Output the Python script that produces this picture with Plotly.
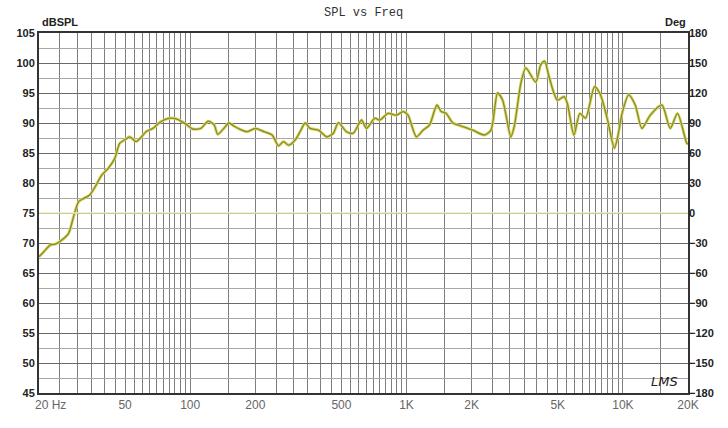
import plotly.graph_objects as go

# ---------------- data ----------------
freq_hz = [20, 21, 22.6, 23.8, 25.5, 27.4, 28.9, 30.5, 32.1, 34.3, 36.4, 39.0, 41.7, 44.8,
           47.2, 49.9, 52.6, 56.2, 59.6, 62.7, 67.2, 73, 80, 86, 94.8, 102.8, 112, 121,
           129, 134, 143, 151, 159, 171, 183, 200, 219, 239, 256, 270, 285, 306, 322,
           340, 358, 392, 428, 459, 484, 528, 567, 619, 653, 713, 752, 822, 898, 964,
           1016, 1110, 1192, 1278, 1382, 1446, 1525, 1637, 1788, 2023, 2288, 2454, 2636,
           2780, 3036, 3146, 3376, 3560, 3956, 4172, 4350, 4558, 4980, 5344, 5534, 5940,
           6328, 6724, 7396, 7878, 8456, 9138, 9468, 9916, 10634, 11408, 12248, 13384,
           15144, 16548, 17880, 19760, 20000]
spl_db = [67.7, 68.5, 69.7, 69.8, 70.5, 71.6, 74.4, 76.9, 77.4, 78.0, 79.4, 81.3, 82.4, 84.1,
          86.6, 87.2, 87.7, 86.9, 87.7, 88.6, 89.1, 90.2, 90.8, 90.7, 89.9, 89.0, 89.1, 90.3,
          89.7, 88.1, 89.1, 90.0, 89.5, 88.9, 88.55, 89.1, 88.55, 88.0, 86.2, 86.9, 86.3, 87.2, 88.55,
          90.0, 89.1, 88.8, 87.7, 88.3, 90.05, 88.55, 88.3, 90.5, 89.1, 90.8, 90.5, 91.6, 91.3, 91.9,
          91.3, 87.7, 88.8, 89.7, 93.0, 91.9, 91.6, 90.0, 89.5, 88.8, 88.0, 88.8, 95.0,
          93.8, 87.7, 89.4, 96.6, 99.2, 96.8, 99.7, 100.3, 97.7, 93.8, 94.4, 93.3, 88.0,
          91.6, 90.8, 96.05, 94.7, 90.8, 85.8, 87.7, 91.6, 94.7, 93.0, 89.1, 91.3,
          93.0, 89.1, 91.6, 86.6, 86.5]

phase_freq = [20, 20000]
phase_deg = [0, 0]

x_tick_vals = [20, 50, 100, 200, 500, 1000, 2000, 5000, 10000, 20000]
x_tick_text = ["\u00a0" * 7 + "20 Hz", "50", "100", "200", "500", "1K", "2K", "5K", "10K", "20K"]
x_grid_mult = [1.0, 1.5, 2.0, 2.5, 3.0, 3.5, 4.0, 4.5, 5.0, 5.5, 6.0, 6.5, 7.0, 7.5, 8.0, 8.5, 9.0, 9.5]
x_decades = [10, 100, 1000, 10000]

y_left_ticks = list(range(45, 106, 5))
y_right_ticks = list(range(-180, 181, 30))

# ---------------- figure ----------------
grid_vals = [m * d for d in x_decades for m in x_grid_mult if 20 <= m * d <= 20000]

fig = go.Figure()
fig.add_trace(go.Scatter(x=phase_freq, y=phase_deg, yaxis="y2", mode="lines",
                         line=dict(color="#ececb4", width=1.3), hoverinfo="skip",
                         showlegend=False))
fig.add_trace(go.Scatter(x=freq_hz, y=spl_db, mode="lines",
                         line=dict(color="#d8d862", width=3.0, shape="spline", smoothing=0.7),
                         hoverinfo="skip", showlegend=False))
fig.add_trace(go.Scatter(x=freq_hz, y=spl_db, mode="lines",
                         line=dict(color="#8a8a2e", width=1.3, shape="spline", smoothing=0.7),
                         showlegend=False))

fig.update_layout(
    width=728, height=428,
    margin=dict(l=36, r=40, t=33, b=35),
    paper_bgcolor="white", plot_bgcolor="white",
    font=dict(family="Liberation Sans, Arial, sans-serif", size=11, color="#222"),
    xaxis=dict(
        type="log", range=[1.30103, 4.30103],
        tickmode="array", tickvals=x_tick_vals, ticktext=x_tick_text,
        tickfont=dict(size=12, color="#666"),
        ticks="", showgrid=False,
        minor=dict(tickmode="array", tickvals=grid_vals, showgrid=True,
                   gridcolor="#7e7e7e", gridwidth=1, ticks=""),
        showline=True, linecolor="#333", linewidth=2, mirror=True,
        zeroline=False,
    ),
    yaxis=dict(
        range=[45, 105], tickmode="array", tickvals=y_left_ticks,
        tickfont=dict(size=11, color="#222", weight="bold"),
        showgrid=True, gridcolor="#6a6a6a", gridwidth=1,
        minor=dict(dtick=2.5, tick0=45, showgrid=True, gridcolor="#a8a8a8", gridwidth=1, ticks=""),
        ticks="", ticklen=0,
        showline=True, linecolor="#333", linewidth=2, mirror=True,
        zeroline=False,
    ),
    yaxis2=dict(
        range=[-180, 180], tickmode="array", tickvals=y_right_ticks,
        overlaying="y", side="right",
        tickfont=dict(size=11, color="#222", weight="bold"),
        showgrid=False, zeroline=False, ticks="",
    ),
    annotations=[
        dict(text="SPL vs Freq", xref="paper", yref="paper", x=0.5, y=1, yshift=20,
             showarrow=False, xanchor="center", yanchor="middle",
             font=dict(family="Liberation Mono, monospace", size=12, color="#333")),
        dict(text="dBSPL", xref="paper", yref="paper", x=0, y=1, yshift=11, xshift=1,
             showarrow=False, xanchor="left", yanchor="middle",
             font=dict(size=11, color="#222", weight="bold")),
        dict(text="Deg", xref="paper", yref="paper", x=1, y=1, yshift=11, xshift=0,
             showarrow=False, xanchor="right", yanchor="middle",
             font=dict(size=11, color="#222", weight="bold")),
        dict(text="<i>LMS</i>", xref="paper", yref="paper", x=1, y=0, xshift=-8, yshift=12,
             showarrow=False, xanchor="right", yanchor="middle",
             font=dict(family="DejaVu Sans, sans-serif", size=13, color="#222")),
    ],
)

fig.write_html("out.html", config={"displayModeBar": False},
               post_script="document.body.style.margin='0';")
